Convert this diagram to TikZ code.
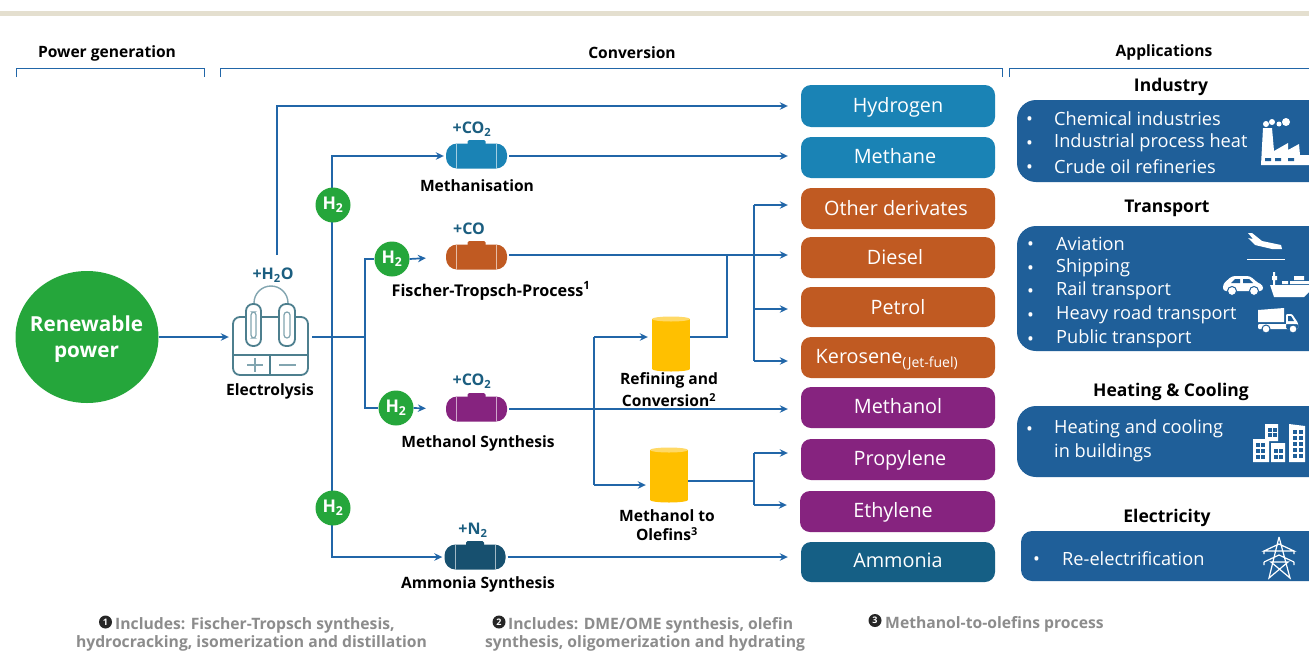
\documentclass[tikz,border=0pt]{standalone}
\usepackage{fontspec}
\setmainfont{Open Sans}
\usetikzlibrary{arrows.meta,calc,shapes.geometric}
\definecolor{flow}{HTML}{2166A8}
\definecolor{teal}{HTML}{1B5E80}
\definecolor{cblue}{HTML}{1A83B5}
\definecolor{corange}{HTML}{C05A22}
\definecolor{cpurple}{HTML}{86237F}
\definecolor{cdark}{HTML}{155F85}
\definecolor{vdark}{HTML}{17506F}
\definecolor{appblue}{HTML}{1F5F99}
\definecolor{iconline}{HTML}{4D7F8E}
\definecolor{ggreen}{HTML}{25A63B}
\definecolor{gtxt}{HTML}{8C8C8C}
\definecolor{cyell}{HTML}{FFC000}
\definecolor{cyelt}{HTML}{FFD966}
\definecolor{strip}{HTML}{E4DFCF}
\newcommand{\fs}[1]{\fontsize{#1}{#1}\selectfont}
\tikzset{
  x=1pt,y=-1pt,
  arr/.style={draw=flow,line width=1.7pt,-{Stealth[length=8pt,width=7.5pt]}},
  ln/.style={draw=flow,line width=1.7pt},
  prod/.style={rounded corners=10pt,minimum height=41pt,inner sep=0pt,text=white,font=\fs{19}},
  ptext/.style={text=white,font=\fs{19.8},inner sep=0pt,anchor=base},
  app/.style={rounded corners=19pt,fill=appblue},
  apptext/.style={text=white,font=\fs{18.2},anchor=west,inner sep=0pt},
  hdr/.style={font=\bfseries\fs{15.6},inner sep=0pt},
  title/.style={font=\bfseries\fs{17.5},inner sep=0pt},
  lab/.style={font=\bfseries\fs{15.6},inner sep=0pt,align=center},
  plus/.style={font=\bfseries\fs{16},text=teal,inner sep=0pt},
  htwo/.style={circle,fill=ggreen,minimum size=35pt,inner sep=0pt,text=white,font=\bfseries\fs{17.5}},
  vessel/.style={fill=#1,rounded corners=11pt,minimum width=61pt,minimum height=25pt,inner sep=0pt},
  cyl/.style={fill=#1,minimum width=38pt,minimum height=50pt,inner sep=0pt},
  foot/.style={font=\bfseries\fs{15.7},text=gtxt,inner sep=0pt,anchor=base},
  fmark/.style={circle,fill=black!85,text=white,minimum size=13pt,inner sep=0pt,font=\bfseries\fs{9}},
  brk/.style={draw=flow,line width=1pt},
  ic/.style={fill=white,draw=none},
  il/.style={draw=iconline,line width=1.8pt},
}
\begin{document}
\begin{tikzpicture}
\useasboundingbox (0,0) rectangle (1309,651);
\fill[white] (0,0) rectangle (1309,651);
\fill[strip] (0,11) rectangle (1309,16);
% headers
\node[hdr] (h1) at (107,53) {Power generation};
\node[hdr] (h2) at (632,53) {Conversion};
\node[hdr] (h3) at (1164,52.5) {Applications};
\draw[brk] (16,77) |- (204,68) -- (204,77);
\draw[brk] (220,77) |- (1002,68) -- (1002,77);
\draw[brk] (1009,77) |- (1310,68);
% renewable
\node[ellipse,fill=ggreen,minimum width=143pt,minimum height=132pt,inner sep=0pt] (ren) at (87,337) {};
\node[text=white,align=center,inner sep=0pt,font=\bfseries\fs{20.7}] (rent) at (86.5,339) {Renewable\\[6pt]power};
% electrolysis
\node[minimum width=76pt,minimum height=59pt,inner sep=0pt] (el) at (271,346) {};
\draw[il,rounded corners=7pt] (246,317) -- (233,317) -- (233,375) -- (308,375) -- (308,317) -- (295,317);
\draw[il] (261,317) -- (279,317) (233,355) -- (308,355) (270,355) -- (270,375);
\draw[il,rounded corners=7pt] (246,304) rectangle (261,346);
\draw[il,rounded corners=7pt] (279,304) rectangle (295,346);
\draw[il,line width=1.2pt,draw=iconline!70,rounded corners=3pt] (251,312) rectangle (256,338);
\draw[il,line width=1.2pt,draw=iconline!70,rounded corners=3pt] (284,312) rectangle (290,338);
\draw[il,line width=1.4pt,draw=iconline!70] (254,303) arc[start angle=180,end angle=360,radius=17];
\draw[il,line width=1.4pt,draw=iconline!70] (247,365) -- (263,365) (255,358) -- (255,372) (279,365) -- (296,365);
\node[plus] (water) at (273,275) {+H\textsubscript{2}O};
\node[lab] (ellab) at (270,391) {Electrolysis};
% products
\newcommand{\prodbox}[8]{\node[prod,fill=#2,minimum width=#4pt,minimum height=#7pt] (#1) at (#3,#5) {}; \node[ptext] (#1t) at (#6,#8) {#1};}
\prodbox{Hydrogen}{cblue}{898}{194}{106}{898}{42}{112}
\prodbox{Methane}{cblue}{898}{194}{157.5}{895}{41}{163.5}
\prodbox{Petrol}{corange}{898}{194}{307}{898}{40}{314.5}
\prodbox{Diesel}{corange}{898}{194}{257.5}{895}{41}{264.5}
\prodbox{Methanol}{cpurple}{898}{194}{407.5}{898}{41}{413.5}
\prodbox{Propylene}{cpurple}{898}{194}{459.5}{900}{41}{465}
\prodbox{Ethylene}{cpurple}{897.5}{195}{511.5}{893}{41}{517.5}
\prodbox{Ammonia}{cdark}{898}{194}{562}{898}{40}{567.5}
\node[prod,fill=corange,minimum width=194pt] (Other) at (898,208.5) {};
\node[ptext] (Othert) at (896,215.5) {Other derivates};
\node[prod,fill=corange,minimum width=194pt] (Kero) at (898,357.5) {};
\node[ptext] (Kerot) at (887,363.5) {Kerosene\textsubscript{\fs{14}(Jet-fuel)}};
% vessels
\node[vessel=cblue] (mv) at (476.5,156) {};
\node[vessel=corange] (fv) at (476.5,257) {};
\node[vessel=cpurple] (mo) at (476.5,409) {};
\node[vessel=vdark] (av) at (475,557) {};
\foreach \v/\c in {mv/cblue,fv/corange,mo/cpurple,av/vdark}{
  \fill[\c,rounded corners=1.5pt] ($(\v)+(-9,-16)$) rectangle ($(\v)+(9,-10)$);
  \draw[white!60!\c,line width=.8pt] ($(\v)+(-20,-12.5)$) -- ($(\v)+(-20,12.5)$) ($(\v)+(20,-12.5)$) -- ($(\v)+(20,12.5)$);
}
\node[plus] (p1) at (472,129) {+CO\textsubscript{2}};
\node[plus] (p2) at (469,229) {+CO};
\node[plus] (p3) at (472,381) {+CO\textsubscript{2}};
\node[plus] (p4) at (473,530) {+N\textsubscript{2}};
\node[lab] (l1) at (477,186) {Methanisation};
\node[lab,font=\bfseries\fs{16.2}] (l2) at (491,291) {Fischer-Tropsch-Process\textsuperscript{1}};
\node[lab] (l3) at (478,443) {Methanol Synthesis};
\node[lab] (l4) at (478,584) {Ammonia Synthesis};
% cylinders
\node[cyl=cyell] (rc) at (671,344) {};
\node[cyl=cyell] (oc) at (669,475) {};
\foreach \v in {rc,oc}{
  \fill[cyell] ($(\v)+(0,25)$) ellipse[x radius=19,y radius=2.5];
  \fill[cyelt] ($(\v)+(0,-25)$) ellipse[x radius=19,y radius=2.5];
}
\node[lab] (l5) at (669,390) {Refining and\\[4pt]Conversion\textsuperscript{2}};
\node[lab] (l6) at (667,525) {Methanol to\\[4pt]Olefins\textsuperscript{3}};
% junctions
\coordinate (a1) at (277,255);
\coordinate (a2) at (312,337);
\coordinate (j) at (365,337);
\coordinate (ja) at (332,337);
\coordinate (r1) at (727,337);
\coordinate (r2) at (727,255);
\coordinate (busp) at (754,309);
\coordinate (busk) at (754,361);
\coordinate (buso) at (754,205);
\coordinate (t) at (754,481);
\coordinate (tp) at (754,453);
\coordinate (te) at (754,505);
\coordinate (c2) at (594,485);
% connectors
\draw[arr,shorten >=4pt] (ren.east) -- (ren.east -| el.west) ;
\draw[arr,shorten >=13pt] (a1) |- (Hydrogen.west);
\draw[ln] (a2) -- (j);
\draw[arr,shorten >=2pt] (ja) |- (mv.west);
\draw[arr,shorten >=2pt] (ja) |- (av.west);
\node[htwo] (g1) at (333,205) {H\textsubscript{2}};
\node[htwo] (g4) at (333,508) {H\textsubscript{2}};
\node[htwo] (g2) at (392,259) {H\textsubscript{2}};
\node[htwo] (g3) at (396,408) {H\textsubscript{2}};
\draw[ln] (j) |- (g2.west);
\draw[ln] (j) |- (g3.west);
\draw[arr,shorten >=20pt] (g2.east) -- (fv.west);
\draw[arr,shorten >=20pt] (g3.east) -- (mo.west);
\draw[arr,shorten <=2pt,shorten >=13pt] (mv.east) -- (mv.east -| Methane.west);
\draw[arr,shorten <=2pt,shorten >=13pt] (fv.east |- r2) -- (r2 -| Diesel.west);
\draw[arr,shorten <=2pt,shorten >=13pt] (mo.east) -- (mo.east -| Methanol.west);
\draw[arr,shorten <=2pt,shorten >=13pt] (av.east) -- (av.east -| Ammonia.west);
\draw[arr,shorten >=4pt] (c2 |- r1) -- (r1 -| rc.west);
\draw[arr,shorten >=4pt] (c2) -- (c2 -| oc.west);
\draw[ln] (c2 |- r1) -- (c2);
\draw[ln] (r1 -| rc.east) -- (r1) -- (r2);
\draw[arr,shorten >=13pt] (buso) -- (buso -| Other.west);
\draw[arr,shorten >=13pt] (busp) -- (busp -| Petrol.west);
\draw[arr,shorten >=13pt] (busk) -- (busk -| Kero.west);
\draw[ln] (buso) -- (busk);
\draw[ln] (t -| oc.east) -- (t);
\draw[ln] (tp) -- (te);
\draw[arr,shorten >=13pt] (tp) -- (tp -| Propylene.west);
\draw[arr,shorten >=13pt] (te) -- (te -| Ethylene.west);
% applications
\node[title] (t1) at (1171,87) {Industry};
\node[title] (t2) at (1167,208) {Transport};
\node[title] (t3) at (1171,392) {Heating \& Cooling};
\node[title] (t4) at (1167,518) {Electricity};
\fill[app] (1017,100) rectangle (1340,182);
\fill[app] (1017,226) rectangle (1340,351);
\fill[app] (1017,406) rectangle (1340,477);
\fill[appblue,rounded corners=11pt] (1021,531) rectangle (1340,581);
\newcommand{\bul}[4]{\node[apptext] at (#1,#3+3) {•}; \node[apptext] at (#2,#3+0.5) {#4};}
\bul{1026}{1054}{118}{Chemical industries}
\bul{1026}{1054}{142}{Industrial process heat}
\bul{1026}{1054}{166}{Crude oil refineries}
\bul{1027}{1056}{243}{Aviation}
\bul{1027}{1056}{267}{Shipping}
\bul{1027}{1056}{290}{Rail transport}
\bul{1027}{1056}{314}{Heavy road transport}
\bul{1027}{1056}{338}{Public transport}
\bul{1026}{1054}{428}{Heating and cooling}
\node[apptext] at (1054,452.5) {in buildings};
\bul{1033}{1062}{558}{Re-electrification}
% factory
\fill[ic] (1261,165) -- (1263,128) -- (1272,128) -- (1274,151) -- (1288,143) -- (1288,150) -- (1299,144) -- (1300,155) -- (1309,155) -- (1309,165) -- cycle;
\fill[ic] (1266,124) circle[radius=3] (1272,122) circle[radius=3] (1279,124) circle[radius=2.5] (1286,122) circle[radius=4];
\fill[appblue] (1265,158) rectangle (1271,161) (1275,158) rectangle (1281,161) (1288,158) rectangle (1294,161);
% plane
\fill[ic] (1248,233) -- (1252,233) -- (1262,241) -- (1281,245) -- (1282,249) -- (1272,249) -- (1255,245) -- (1248,238) -- (1253,239) -- cycle;
\draw[white,line width=1pt] (1247,259) -- (1285,259);
% car
\fill[ic,rounded corners=3pt] (1223,291) -- (1223,284) -- (1232,276) -- (1250,276) -- (1258,283) -- (1263,285) -- (1263,291) -- cycle;
\fill[appblue] (1231,283) -- (1235,279) -- (1240,279) -- (1240,283) -- cycle (1243,283) -- (1243,279) -- (1249,279) -- (1253,283) -- cycle;
\fill[ic,draw=appblue,line width=1pt] (1232,291) circle[radius=4.5] (1254,291) circle[radius=4.5];
% ship
\fill[ic] (1270,285) -- (1309,285) -- (1309,292) -- (1304,297) -- (1274,297) -- cycle;
\fill[ic] (1273,272) rectangle (1275,285) (1272,276) rectangle (1277,280) (1282,281) rectangle (1288,284) (1290,281) rectangle (1309,284) (1294,276) rectangle (1304,280);
% truck
\fill[ic] (1258,310) -- (1284,308) -- (1284,322) -- (1258,322) -- cycle;
\fill[ic,rounded corners=1pt] (1258,324) rectangle (1298,329) (1286,314) -- (1292,314) -- (1298,323) -- (1298,329) -- (1286,329) -- cycle;
\fill[appblue] (1288,316) -- (1291,316) -- (1294,321) -- (1288,321) -- cycle;
\fill[ic,draw=appblue,line width=1pt] (1266,329) circle[radius=4] (1293,329) circle[radius=4];
% buildings
\fill[ic] (1265,424) rectangle (1278,441) (1253,439) rectangle (1269,462) (1271,443) rectangle (1285,462) (1289,424) -- (1305,426) -- (1305,462) -- (1289,462) -- cycle;
\foreach \x/\y in {1268/428,1273/428,1268/433,1273/433,1256/443,1261/443,1256/449,1261/449,1256/455,1261/455,1274/449,1279/449,1274/455,1279/455,1293/430,1299/430,1293/436,1299/436,1293/442,1299/442,1293/448,1299/448,1293/454,1299/454}
  \fill[appblue] (\x,\y) rectangle ++(3.5,3.5);
% pylon
\draw[white,line width=1.2pt] (1279,537) -- (1269,578) -- (1288,562) -- (1271,562) -- (1290,578) -- (1279,537)
  (1264,551) -- (1279,544) -- (1294,551) -- cycle (1264,562) -- (1279,555) -- (1294,562)
  (1264,551) -- (1264,554) (1294,551) -- (1294,554) (1264,562) -- (1264,565) (1294,562) -- (1294,565);
% footnotes
\node[fmark] (m1) at (105.5,622) {1};
\node[fmark] (m2) at (499,622) {2};
\node[fmark] (m3) at (875,620.5) {3};
\node[foot,anchor=base west] (f1) at (115,629) {Includes: Fischer-Tropsch synthesis,};
\node[foot] (f1b) at (251.5,647) {hydrocracking, isomerization and distillation};
\node[foot,anchor=base west] (f2) at (508,629.5) {Includes: DME/OME synthesis, olefin};
\node[foot] (f2b) at (645,647) {synthesis, oligomerization and hydrating};
\node[foot,anchor=base west] (f3) at (885,628) {Methanol-to-olefins process};
\end{tikzpicture}
\end{document}
